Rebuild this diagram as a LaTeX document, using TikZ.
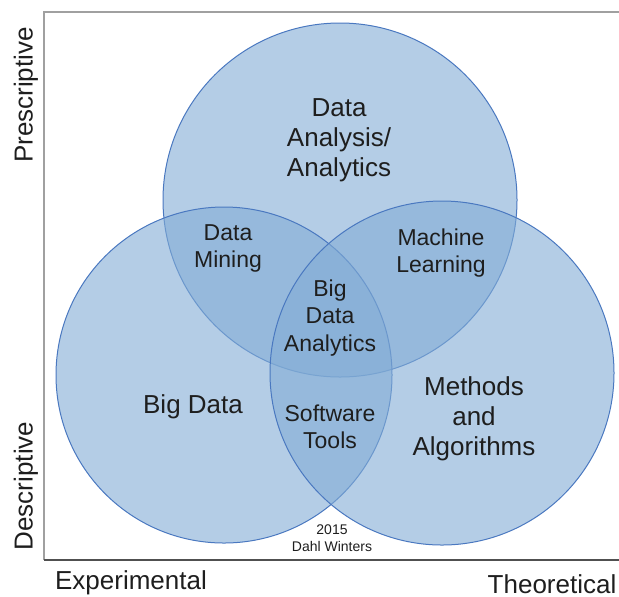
\documentclass[tikz,border=0pt]{standalone}
\usepackage{fontspec}
\setmainfont{Liberation Sans}
\definecolor{setfill}{RGB}{130,172,213}
\definecolor{setline}{RGB}{74,120,192}
\definecolor{frametop}{RGB}{160,160,160}
\definecolor{framebot}{RGB}{80,80,80}
\definecolor{labeltext}{RGB}{30,30,30}

\begin{document}
\begin{tikzpicture}[x=0.5pt,y=-0.5pt,
    set/.style={circle,draw=setline,line width=0.5pt,fill=setfill,fill opacity=0.6,inner sep=0pt},
    bigtxt/.style={align=center,text=labeltext,font=\fontsize{13}{15}\selectfont},
    midtxt/.style={align=center,text=labeltext,font=\fontsize{11.5}{13.5}\selectfont},
    axistxt/.style={text=labeltext,inner sep=0pt,font=\fontsize{13}{15}\selectfont}]
    \useasboundingbox (0,0) rectangle (619,596);

    % frame
    \coordinate (tl) at (44,12);
    \coordinate (tr) at (619,12);
    \coordinate (bl) at (44,560);
    \coordinate (br) at (619,560);
    \draw[frametop,line width=0.9pt] (tr) -- (tl) -- (bl);
    \draw[framebot,line width=0.9pt] (bl) -- (br);

    % the three sets
    \node[set,minimum size=177pt] (analysis) at (340,200) {};
    \node[set,minimum size=168pt] (bigdata)  at (224,375) {};
    \node[set,minimum size=172pt] (methods)  at (442,373) {};

    % labels
    \node[bigtxt] (lblAnalysis) at (339,140) {Data\\Analysis/\\Analytics};
    \node[midtxt] (lblMining)   at (228,248) {Data\\Mining};
    \node[midtxt] (lblLearning) at (441,253) {Machine\\Learning};
    \node[midtxt,font=\fontsize{11.5}{13.8}\selectfont] (lblBDA) at (330,318) {Big\\Data\\Analytics};
    \node[bigtxt] (lblBigData)  at (193,407) {Big Data};
    \node[midtxt] (lblTools)    at (330,427) {Software\\Tools};
    \node[bigtxt] (lblMethods)  at (474,419) {Methods\\and\\Algorithms};
    \node[align=center,text=labeltext,font=\fontsize{7}{8.5}\selectfont] (lblCredit) at (332,538) {2015\\Dahl Winters};

    % axes
    \node[axistxt,rotate=90] (prescr) at (26,95)  {Prescriptive};
    \node[axistxt,rotate=90] (descr)  at (26,486) {Descriptive};
    \node[axistxt,anchor=base] (exper)  at (131,589) {Experimental};
    \node[axistxt,anchor=base] (theor)  at (552,593) {Theoretical};
\end{tikzpicture}
\end{document}
